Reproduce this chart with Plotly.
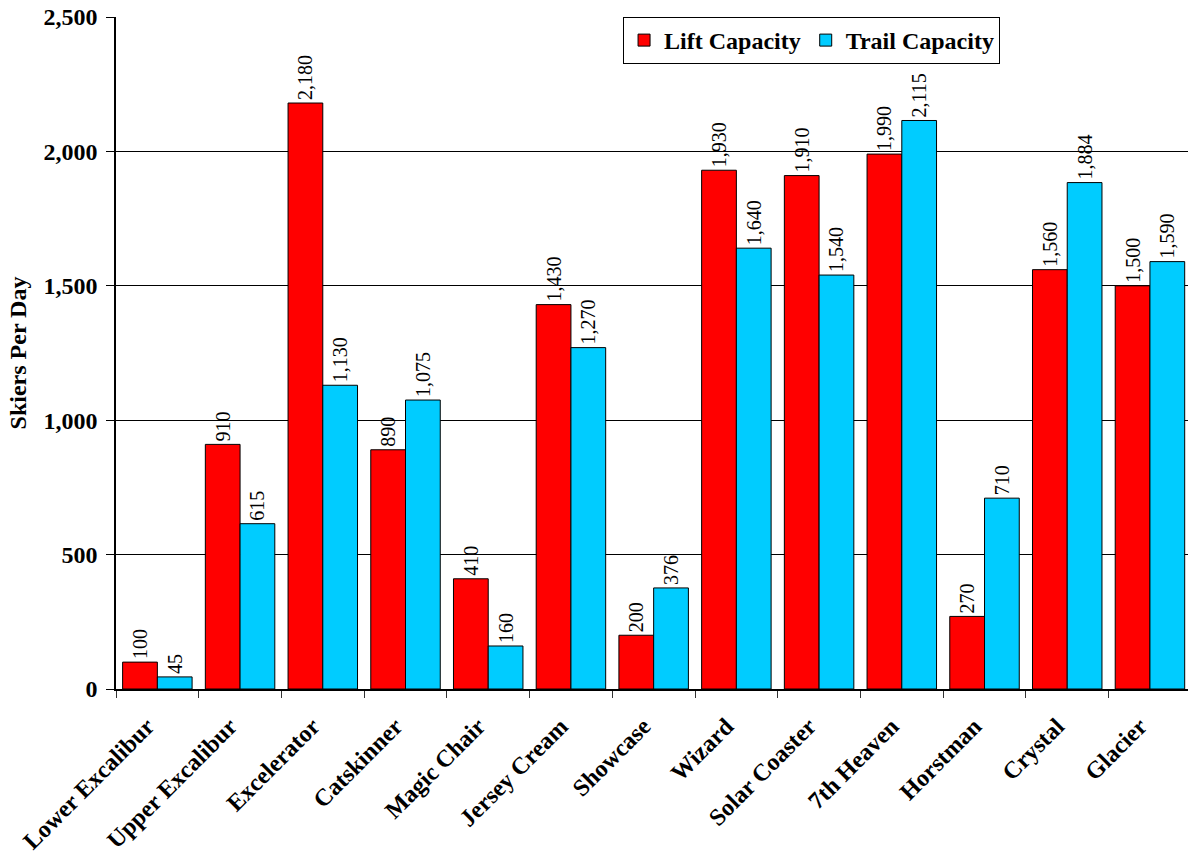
import plotly.graph_objects as go

lifts = ["Lower Excalibur", "Upper Excalibur", "Excelerator", "Catskinner", "Magic Chair",
         "Jersey Cream", "Showcase", "Wizard", "Solar Coaster", "7th Heaven",
         "Horstman", "Crystal", "Glacier"]
lift_capacity = [100, 910, 2180, 890, 410, 1430, 200, 1930, 1910, 1990, 270, 1560, 1500]
trail_capacity = [45, 615, 1130, 1075, 160, 1270, 376, 1640, 1540, 2115, 710, 1884, 1590]

serif = "Liberation Serif, Times New Roman, serif"

fig = go.Figure()
for name, vals, color in [("Lift Capacity", lift_capacity, "#FF0000"),
                          ("Trail Capacity", trail_capacity, "#00CCFF")]:
    fig.add_trace(go.Bar(
        x=lifts, y=vals, name=name,
        marker=dict(color=color, line=dict(color="#000000", width=1)),
        texttemplate="%{y:,}", textposition="outside", textangle=-90,
        constraintext="none",
        textfont=dict(family=serif, size=20, color="#000000"),
        cliponaxis=False,
    ))

fig.update_layout(
    template="none",
    width=1188, height=857,
    margin=dict(l=116, r=0, t=17, b=168, pad=0),
    paper_bgcolor="white", plot_bgcolor="white",
    barmode="group", bargap=0.16, bargroupgap=0,
    font=dict(family=serif, color="#000000"),
    showlegend=True,
    legend=dict(
        orientation="h", x=0.473, y=1.0, xanchor="left", yanchor="top",
        bgcolor="white", bordercolor="#000000", borderwidth=1,
        font=dict(family=serif, size=24, color="#000000", weight="bold"),
        traceorder="normal",
    ),
    xaxis=dict(
        automargin=False,
        showgrid=False,
        showline=True, linecolor="#000000", linewidth=1.5,
        ticks="outside", tickson="boundaries", ticklen=7, tickcolor="#333333",
        tickangle=-45, ticklabelstandoff=12, ticklabelshift=-10,
        tickfont=dict(family=serif, size=24, color="#000000", weight="bold"),
        range=[-0.5, 12.46],
    ),
    yaxis=dict(
        automargin=False,
        range=[0, 2500], dtick=500, tickformat=",",
        showgrid=True, gridcolor="#000000", gridwidth=1,
        showline=True, linecolor="#000000", linewidth=1.5,
        ticks="outside", ticklen=8, tickcolor="#000000",
        ticklabelstandoff=4,
        tickfont=dict(family=serif, size=24, color="#000000", weight="bold"),
        title=dict(text="Skiers Per Day",
                   font=dict(family=serif, size=24, color="#000000", weight="bold"),
                   standoff=10),
        zeroline=False,
    ),
)

fig.write_html("out.html")
